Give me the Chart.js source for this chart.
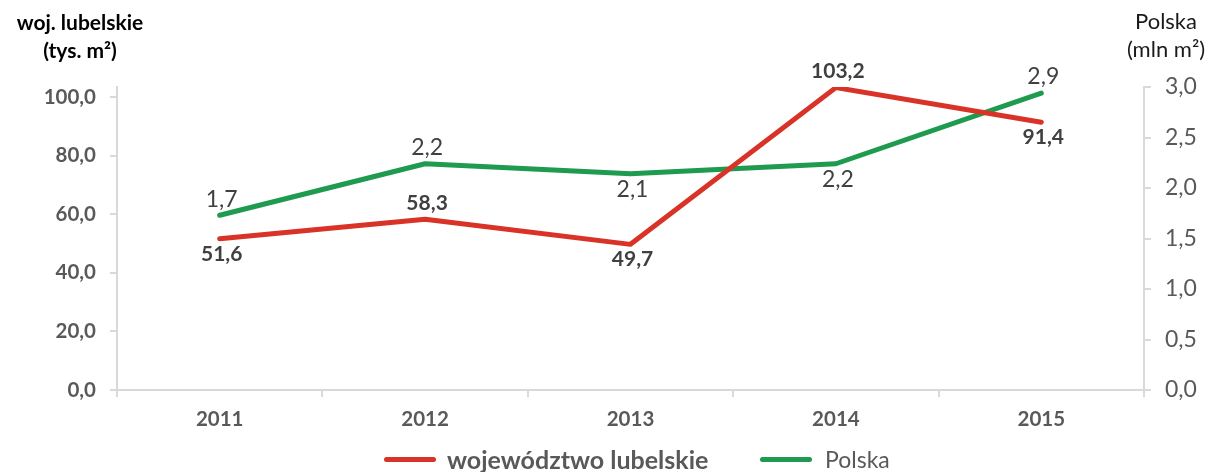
<!DOCTYPE html>
<html lang="pl">
<head>
<meta charset="utf-8">
<title>woj. lubelskie vs Polska</title>
<script src="https://cdn.jsdelivr.net/npm/chart.js@4"></script>
<style>
  body { margin: 0; background: #fff; font-family: Lato, 'Open Sans', sans-serif; }
  .wrap { position: relative; width: 1211px; height: 472px; }
  .title { position: absolute; text-align: center; line-height: 28px; }
  .title.left  { left: 0; width: 160px; top: 8px; font-size: 21px; font-weight: bold; color: #000; }
  .title.right { left: 1096px; width: 140px; top: 7px; font-size: 22px; color: #1a1a1a; }
  .legend { position: absolute; top: 445px; left: 0; width: 1211px; height: 28px; }
  .legend .item { position: absolute; top: 0; font-size: 23px; color: #595959; line-height: 28px; white-space: nowrap; }
  .legend .swatch { position: absolute; top: 12px; width: 52px; height: 5px; border-radius: 3px; }
</style>
</head>
<body>
<div class="wrap">
  <canvas id="chart" width="1211" height="472"></canvas>
  <div class="title left">woj. lubelskie<br>(tys. m²)</div>
  <div class="title right">Polska<br>(mln m²)</div>
  <div class="legend">
    <span class="swatch" style="left:384px; background:#d93328"></span>
    <div class="item" style="left:447px; font-weight:bold; font-size:25px;">województwo lubelskie</div>
    <span class="swatch" style="left:760px; background:#1e9b4e"></span>
    <div class="item" style="left:825px;">Polska</div>
  </div>
</div>

<script>
// ── DATA ───────────────────────────────────────────────
const years    = ['2011', '2012', '2013', '2014', '2015'];
const lubelskie = [51.6, 58.3, 49.7, 103.2, 91.4];     // tys. m²
const polska    = [1.73, 2.24, 2.14, 2.24, 2.94];       // mln m²
const leftTicks  = [0, 20, 40, 60, 80, 100];
const rightTicks = [0, 0.5, 1.0, 1.5, 2.0, 2.5, 3.0];

// where each value label sits relative to its point
const lubelskiePos = ['below', 'above', 'below', 'above', 'below'];
const polskaPos    = ['above', 'above', 'below', 'below', 'above'];

const RED   = '#d93328';
const GREEN = '#1e9b4e';
const AXIS  = '#d9d9d9';
const TICK_TXT = '#595959';
const FONT = 'Lato';

// Polish number format: one decimal, comma
function fmt(v) { return v.toFixed(1).replace('.', ','); }

// ── PLUGIN: value labels next to the points ───────────
const valueLabels = {
  id: 'valueLabels',
  afterDatasetsDraw(chart) {
    const ctx = chart.ctx;
    ctx.save();
    ctx.textAlign = 'center';
    ctx.textBaseline = 'middle';
    chart.data.datasets.forEach((ds, i) => {
      const meta = chart.getDatasetMeta(i);
      ctx.font = ds.labelFont;
      ctx.fillStyle = '#404040';
      meta.data.forEach((pt, j) => {
        const dy = ds.labelPos[j] === 'above' ? ds.labelUp : ds.labelDown;
        ctx.fillText(fmt(ds.data[j]), pt.x + 2, pt.y + dy);
      });
    });
    ctx.restore();
  }
};

// only show the round tick values, not the odd axis max
function keepTicks(list) {
  return scale => {
    scale.ticks = list.map(v => ({ value: v }));
  };
}

new Chart(document.getElementById('chart').getContext('2d'), {
  type: 'line',
  data: {
    labels: years,
    datasets: [
      {
        label: 'województwo lubelskie',
        data: lubelskie,
        yAxisID: 'y',
        borderColor: RED,
        backgroundColor: RED,
        borderWidth: 5,
        pointRadius: 0,
        tension: 0,
        borderCapStyle: 'round',
        borderJoinStyle: 'round',
        labelPos: lubelskiePos,
        labelUp: -16,
        labelDown: 15,
        labelFont: 'bold 21px ' + FONT
      },
      {
        label: 'Polska',
        data: polska,
        yAxisID: 'y1',
        borderColor: GREEN,
        backgroundColor: GREEN,
        borderWidth: 5,
        pointRadius: 0,
        tension: 0,
        borderCapStyle: 'round',
        borderJoinStyle: 'round',
        labelPos: polskaPos,
        labelUp: -16,
        labelDown: 16,
        labelFont: '23px ' + FONT
      }
    ]
  },
  options: {
    responsive: false,
    animation: false,
    layout: { padding: { top: 87, left: 0, right: 0, bottom: 0 } },
    plugins: {
      legend: { display: false },
      tooltip: { enabled: false }
    },
    scales: {
      x: {
        offset: true,
        grid: { display: true, drawOnChartArea: false, offset: true, tickLength: 7, color: AXIS, lineWidth: 2 },
        border: { color: AXIS, width: 2 },
        ticks: { color: TICK_TXT, font: { family: FONT, size: 20.5, weight: 'bold' }, padding: 10 },
        afterFit: s => { s.height = 82; }
      },
      y: {
        position: 'left',
        min: 0,
        max: 103.4,
        afterBuildTicks: keepTicks(leftTicks),
        grid: { display: true, drawOnChartArea: false, tickLength: 7, color: AXIS, lineWidth: 2 },
        border: { color: AXIS, width: 2 },
        ticks: { color: TICK_TXT, font: { family: FONT, size: 20.5, weight: 'bold' }, padding: 14, callback: v => fmt(v) },
        afterFit: s => { s.width = 117; }
      },
      y1: {
        position: 'right',
        min: 0,
        max: 3.0,
        afterBuildTicks: keepTicks(rightTicks),
        grid: { display: true, drawOnChartArea: false, tickLength: 7, color: AXIS, lineWidth: 2 },
        border: { color: AXIS, width: 2 },
        ticks: { color: TICK_TXT, font: { family: FONT, size: 23 }, padding: 14, callback: v => fmt(v) },
        afterFit: s => { s.width = 67; }
      }
    }
  },
  plugins: [valueLabels]
});
</script>
</body>
</html>
